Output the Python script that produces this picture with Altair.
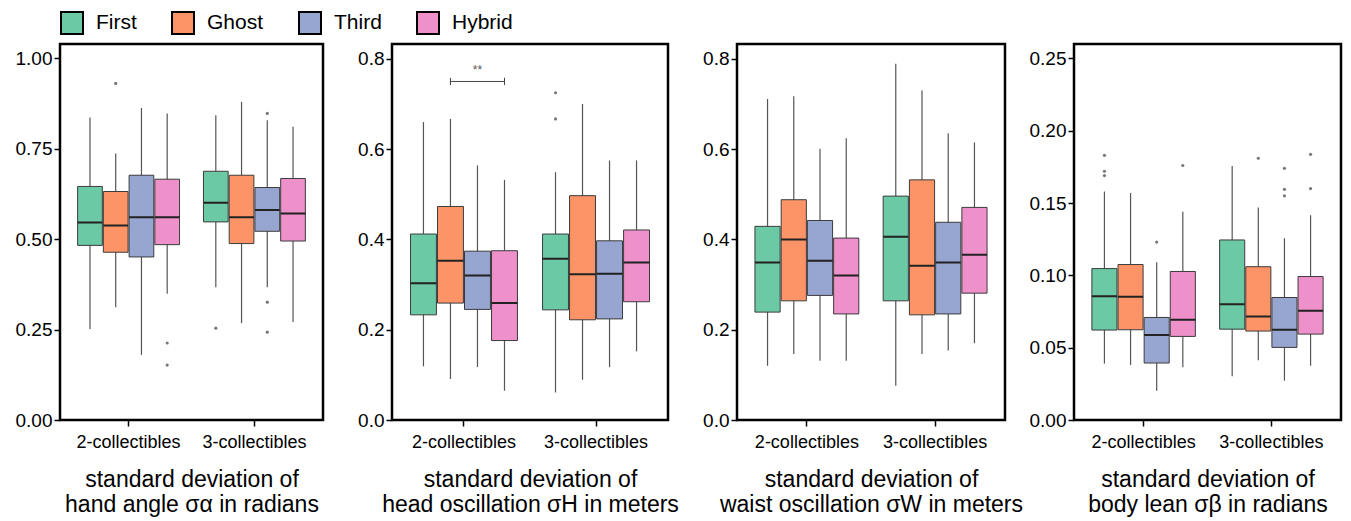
import altair as alt
import pandas as pd

FONT = "Liberation Sans"

groups = ["2-collectibles", "3-collectibles"]
conds = ["First", "Ghost", "Third", "Hybrid"]
colors = ["#6cc9a5", "#fc9468", "#97a5d1", "#ee90ca"]

# order: 2-coll First, Ghost, Third, Hybrid, then 3-coll First, Ghost, Third, Hybrid
hand_lo = [0.252, 0.312, 0.180, 0.349, 0.367, 0.268, 0.367, 0.271]
hand_q1 = [0.483, 0.464, 0.451, 0.485, 0.548, 0.488, 0.522, 0.495]
hand_med = [0.546, 0.538, 0.561, 0.561, 0.601, 0.561, 0.581, 0.571]
hand_q3 = [0.646, 0.632, 0.677, 0.666, 0.688, 0.677, 0.643, 0.668]
hand_hi = [0.837, 0.737, 0.863, 0.848, 0.843, 0.880, 0.829, 0.811]
hand_out_group = ["2-collectibles", "2-collectibles", "2-collectibles", "3-collectibles",
                  "3-collectibles", "3-collectibles", "3-collectibles"]
hand_out_cond = ["Ghost", "Hybrid", "Hybrid", "First", "Third", "Third", "Third"]
hand_out_val = [0.931, 0.213, 0.152, 0.254, 0.848, 0.326, 0.243]

head_lo = [0.119, 0.091, 0.117, 0.065, 0.061, 0.089, 0.117, 0.152]
head_q1 = [0.233, 0.259, 0.245, 0.176, 0.244, 0.222, 0.224, 0.262]
head_med = [0.303, 0.353, 0.320, 0.259, 0.357, 0.323, 0.324, 0.349]
head_q3 = [0.412, 0.473, 0.374, 0.375, 0.412, 0.497, 0.397, 0.421]
head_hi = [0.660, 0.667, 0.564, 0.532, 0.549, 0.700, 0.575, 0.575]
head_out_group = ["3-collectibles", "3-collectibles"]
head_out_cond = ["First", "First"]
head_out_val = [0.725, 0.667]

waist_lo = [0.120, 0.146, 0.131, 0.131, 0.076, 0.146, 0.154, 0.170]
waist_q1 = [0.239, 0.264, 0.276, 0.235, 0.264, 0.233, 0.235, 0.281]
waist_med = [0.349, 0.400, 0.353, 0.320, 0.406, 0.342, 0.349, 0.366]
waist_q3 = [0.429, 0.488, 0.442, 0.403, 0.496, 0.532, 0.438, 0.471]
waist_hi = [0.711, 0.717, 0.601, 0.624, 0.789, 0.730, 0.635, 0.615]
waist_out_group = []
waist_out_cond = []
waist_out_val = []

lean_lo = [0.039, 0.038, 0.0203, 0.0364, 0.0302, 0.0414, 0.0272, 0.0375]
lean_q1 = [0.0622, 0.0624, 0.0394, 0.0578, 0.0628, 0.0615, 0.0502, 0.0594]
lean_med = [0.0856, 0.0852, 0.0587, 0.0693, 0.0801, 0.0716, 0.0624, 0.0755]
lean_q3 = [0.1047, 0.1075, 0.0709, 0.1027, 0.1245, 0.106, 0.0847, 0.0992]
lean_hi = [0.158, 0.157, 0.109, 0.144, 0.1756, 0.147, 0.1257, 0.1416]
lean_out_group = ["2-collectibles"] * 5 + ["3-collectibles"] * 6
lean_out_cond = ["First", "First", "First", "Third", "Hybrid",
                 "Ghost", "Third", "Third", "Third", "Hybrid", "Hybrid"]
lean_out_val = [0.183, 0.172, 0.169, 0.123, 0.176,
                0.181, 0.174, 0.1595, 0.155, 0.1837, 0.160]

# significance bracket (head panel)
sig_group = "2-collectibles"
sig_from, sig_to, sig_mid = "Ghost", "Hybrid", "Third"
sig_y = 0.75
sig_label = "**"

titles = [
    ["standard deviation of", "hand angle σα in radians"],
    ["standard deviation of", "head oscillation σH in meters"],
    ["standard deviation of", "waist oscillation σW in meters"],
    ["standard deviation of", "body lean σβ in radians"],
]


def make_panel(lo, q1, med, q3, hi, og, oc, ov, width, domain, ticks, fmt, title, bracket=False):
    df = pd.DataFrame({
        "group": [g for g in groups for _ in conds],
        "cond": conds * 2,
        "lo": lo, "q1": q1, "med": med, "q3": q3, "hi": hi,
    })
    yscale = alt.Scale(domain=domain, nice=False, zero=False)
    yaxis = alt.Axis(values=ticks, format=fmt, title=None, grid=False, domain=False,
                     labelFontSize=19, labelFont=FONT, labelColor="black",
                     tickColor="black", tickSize=6, tickWidth=1.5, labelPadding=2)
    x = alt.X("group:N", sort=groups,
              scale=alt.Scale(domain=groups, paddingInner=0.19, paddingOuter=0.14),
              axis=alt.Axis(title=title, labelAngle=0, labelFontSize=18, labelFont=FONT,
                            labelColor="black", tickColor="black", tickSize=6, tickWidth=1.5,
                            domain=False, grid=False, labelPadding=7,
                            titleFontSize=23, titleFont=FONT, titleFontWeight="normal",
                            titleColor="black", titleLineHeight=25, titlePadding=17))
    xo = alt.XOffset("cond:N", sort=conds, scale=alt.Scale(domain=conds, paddingInner=0.04))
    base = alt.Chart(df)
    whisk = base.mark_rule(color="#555555", strokeWidth=1.2).encode(
        x=x, xOffset=xo, y=alt.Y("lo:Q", scale=yscale, axis=yaxis), y2="hi:Q")
    box = base.mark_bar(stroke="#3c3c3c", strokeWidth=1).encode(
        x=x, xOffset=xo, y=alt.Y("q1:Q", scale=yscale, axis=yaxis), y2="q3:Q",
        fill=alt.Fill("cond:N", sort=conds, scale=alt.Scale(domain=conds, range=colors),
                      legend=alt.Legend(title=None, orient="none", legendX=0, legendY=-33,
                                        direction="horizontal", symbolType="square",
                                        symbolSize=484, symbolStrokeColor="black",
                                        symbolStrokeWidth=2, symbolOpacity=1,
                                        labelFontSize=21, labelFont=FONT, labelColor="black",
                                        labelOffset=12, columnPadding=31, padding=0)))
    medl = base.mark_bar(stroke="#222222", strokeWidth=2, fillOpacity=0).encode(
        x=x, xOffset=xo, y=alt.Y("med:Q", scale=yscale, axis=yaxis), y2="med:Q")
    layers = [whisk, box, medl]
    if len(ov) > 0:
        odf = pd.DataFrame({"group": og, "cond": oc, "value": ov})
        pts = alt.Chart(odf).mark_circle(size=10, color="#777777", opacity=1).encode(
            x=x, xOffset=xo, y=alt.Y("value:Q", scale=yscale, axis=yaxis))
        layers.append(pts)
    if bracket:
        d = 0.008
        bdf = pd.DataFrame({
            "group": [sig_group] * 6,
            "cond": [sig_from, sig_from, sig_from, sig_to, sig_to, sig_to],
            "v": [sig_y + d, sig_y - d, sig_y, sig_y, sig_y + d, sig_y - d],
            "o": [1, 2, 3, 4, 5, 6],
        })
        br = alt.Chart(bdf).mark_line(color="#444444", strokeWidth=1).encode(
            x=x, xOffset=xo, y=alt.Y("v:Q", scale=yscale, axis=yaxis), order="o:Q")
        tdf = pd.DataFrame({"group": [sig_group], "cond": [sig_mid], "v": [sig_y + 0.026], "t": [sig_label]})
        tx = alt.Chart(tdf).mark_text(fontSize=12, color="#555555", font=FONT).encode(
            x=x, xOffset=xo, y=alt.Y("v:Q", scale=yscale, axis=yaxis), text="t:N")
        layers += [br, tx]
    return alt.layer(*layers).properties(width=width, height=376)


p1 = make_panel(hand_lo, hand_q1, hand_med, hand_q3, hand_hi,
                hand_out_group, hand_out_cond, hand_out_val, 263, [0, 1.04],
                [0, 0.25, 0.5, 0.75, 1.0], ".2f", titles[0])
p2 = make_panel(head_lo, head_q1, head_med, head_q3, head_hi,
                head_out_group, head_out_cond, head_out_val, 276, [0, 0.833],
                [0, 0.2, 0.4, 0.6, 0.8], ".1f", titles[1], bracket=True)
p3 = make_panel(waist_lo, waist_q1, waist_med, waist_q3, waist_hi,
                waist_out_group, waist_out_cond, waist_out_val, 268, [0, 0.833],
                [0, 0.2, 0.4, 0.6, 0.8], ".1f", titles[2])
p4 = make_panel(lean_lo, lean_q1, lean_med, lean_q3, lean_hi,
                lean_out_group, lean_out_cond, lean_out_val, 267, [0, 0.26],
                [0, 0.05, 0.1, 0.15, 0.2, 0.25], ".2f", titles[3])

chart = alt.hconcat(p1, p2, p3, p4, spacing=69, bounds="flush").resolve_scale(
    x="independent", y="independent", xOffset="independent", fill="shared"
).properties(
    padding={"left": 5, "top": 3, "right": 0, "bottom": 0},
    background="white",
).configure_view(stroke="black", strokeWidth=2.5)

chart.save("out.html", embed_options={"renderer": "svg", "actions": False})
